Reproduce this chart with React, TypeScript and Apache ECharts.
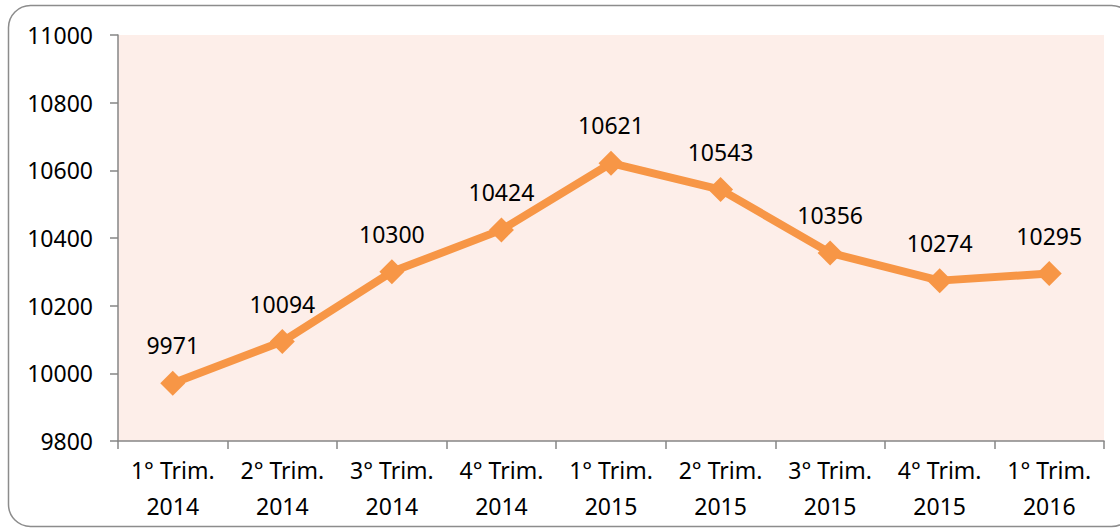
import React, { useEffect, useRef } from "react";
import * as echarts from "echarts";

const categories = [
  "1° Trim.\n2014",
  "2° Trim.\n2014",
  "3° Trim.\n2014",
  "4° Trim.\n2014",
  "1° Trim.\n2015",
  "2° Trim.\n2015",
  "3° Trim.\n2015",
  "4° Trim.\n2015",
  "1° Trim.\n2016",
];
const values = [9971, 10094, 10300, 10424, 10621, 10543, 10356, 10274, 10295];
const yMin = 9800;
const yMax = 11000;
const yStep = 200;

const FONT = "'Noto Sans', 'Open Sans', sans-serif";

export default function App() {
  const ref = useRef<HTMLDivElement>(null);
  useEffect(() => {
    if (!ref.current) return;
    const chart = echarts.init(ref.current, null, { renderer: "svg" });
    chart.setOption({
      animation: false,
      backgroundColor: "#ffffff",
      graphic: [
        {
          type: "rect",
          shape: { x: 8.5, y: 5.5, width: 1125, height: 521, r: 22 },
          style: { fill: "none", stroke: "#8c8c8c", lineWidth: 1.5 },
          z: 0,
        },
      ],
      grid: {
        left: 118,
        right: 16,
        top: 35,
        bottom: 90,
        show: true,
        backgroundColor: "#FDEEE9",
        borderWidth: 0,
      },
      xAxis: {
        type: "category",
        data: categories,
        boundaryGap: true,
        axisLine: { lineStyle: { color: "#868686", width: 1.5 } },
        axisTick: { show: true, length: 8, alignWithLabel: false, lineStyle: { color: "#868686", width: 1.5 } },
        axisLabel: {
          color: "#000",
          fontFamily: FONT,
          fontSize: 23,
          lineHeight: 36,
          margin: 11,
          interval: 0,
        },
        splitLine: { show: false },
      },
      yAxis: {
        type: "value",
        min: yMin,
        max: yMax,
        interval: yStep,
        axisLine: { show: true, lineStyle: { color: "#868686", width: 1.5 } },
        axisTick: { show: true, length: 8, lineStyle: { color: "#868686", width: 1.5 } },
        axisLabel: {
          color: "#000",
          fontFamily: FONT,
          fontSize: 23,
          margin: 25,
          formatter: (v: number) => String(v),
        },
        splitLine: { show: false },
      },
      series: [
        {
          type: "line",
          data: values,
          symbol: "diamond",
          symbolSize: 25,
          lineStyle: { color: "#F79646", width: 8 },
          itemStyle: { color: "#F79646" },
          label: {
            show: true,
            position: "top",
            distance: 14,
            color: "#000",
            fontFamily: FONT,
            fontSize: 23,
          },
        },
      ],
    });
    return () => chart.dispose();
  }, []);
  return <div ref={ref} style={{ width: 1120, height: 531, position: "absolute", left: 0, top: 0 }} />;
}
